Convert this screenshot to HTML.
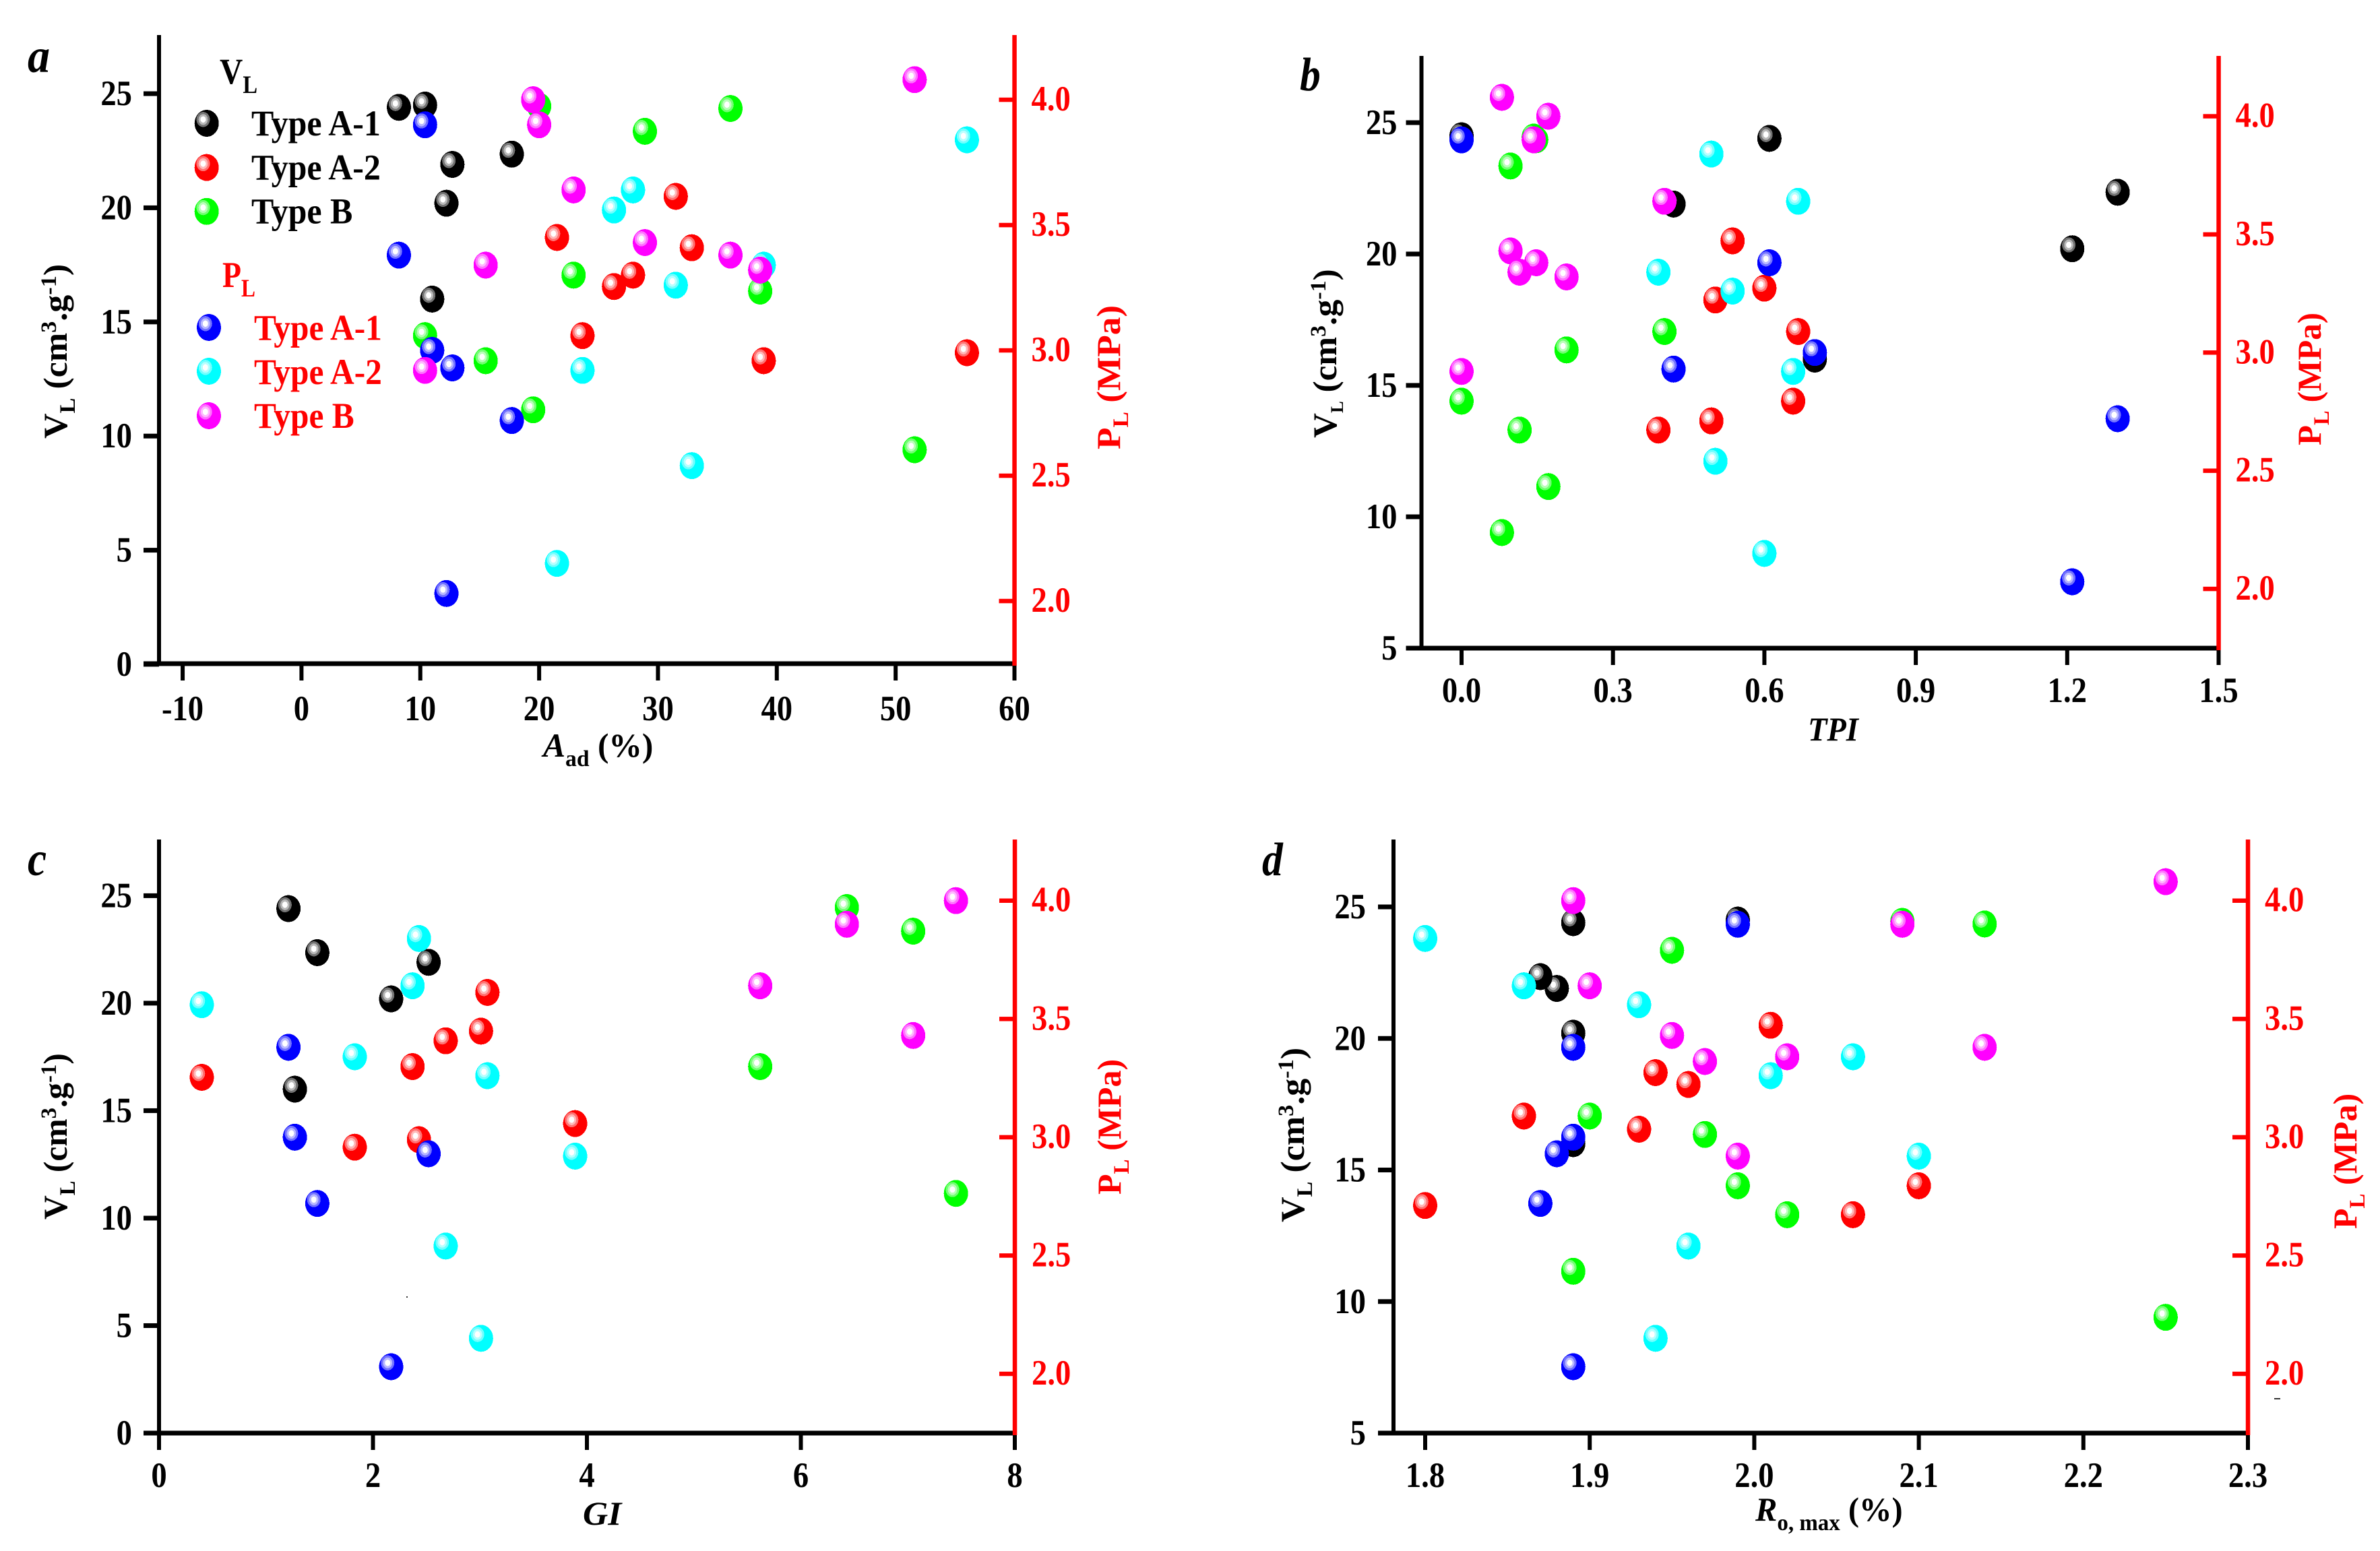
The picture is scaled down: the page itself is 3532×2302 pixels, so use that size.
<!DOCTYPE html>
<html lang="en">
<head>
<meta charset="utf-8">
<title>Langmuir parameters versus coal properties</title>
<style>
html,body{margin:0;padding:0;background:#fff;}
svg{display:block;}
text{font-family:"Liberation Serif",serif;font-weight:bold;}
.red{fill:#f00;}
.blk{fill:#000;}
.it{font-style:italic;}
</style>
</head>
<body>
<svg id="chart" xmlns="http://www.w3.org/2000/svg" width="3532" height="2302" viewBox="0 0 3532 2302">
<rect width="3532" height="2302" fill="#fff"/>

<g id="panel-a"></g>
<g id="panel-b"></g>
<g id="panel-c"></g>
<g id="panel-d"></g>

<g>
<text class="it blk" font-size="72" transform="translate(41,107) scale(.92,1)">a</text>
<text class="it blk" font-size="70" transform="translate(1929,134) scale(.88,1)">b</text>
<text class="it blk" font-size="72" transform="translate(41,1299) scale(.88,1)">c</text>
<text class="it blk" font-size="70" transform="translate(1873,1299) scale(.88,1)">d</text>
</g>

<g class="blk">
<text font-size="50" transform="translate(99,651) rotate(-90) scale(1.04,1)">V<tspan dy="12" font-size="33">L</tspan><tspan dy="-12"> (cm</tspan><tspan dy="-16" font-size="33">3</tspan><tspan dy="16">.g</tspan><tspan dy="-16" font-size="33">-1</tspan><tspan dy="16">)</tspan></text>
<text font-size="50" transform="translate(1983,650) rotate(-90) scale(1.025,1)">V<tspan dy="10" font-size="26">L</tspan><tspan dy="-10"> (cm</tspan><tspan dy="-16" font-size="33">3</tspan><tspan dy="16">.g</tspan><tspan dy="-16" font-size="33">-1</tspan><tspan dy="16">)</tspan></text>
<text font-size="50" transform="translate(99,1810) rotate(-90) scale(.99,1)">V<tspan dy="12" font-size="33">L</tspan><tspan dy="-12"> (cm</tspan><tspan dy="-16" font-size="33">3</tspan><tspan dy="16">.g</tspan><tspan dy="-16" font-size="33">-1</tspan><tspan dy="16">)</tspan></text>
<text font-size="50" transform="translate(1935,1814) rotate(-90) scale(1.04,1)">V<tspan dy="12" font-size="33">L</tspan><tspan dy="-12"> (cm</tspan><tspan dy="-16" font-size="33">3</tspan><tspan dy="16">.g</tspan><tspan dy="-16" font-size="33">-1</tspan><tspan dy="16">)</tspan></text>
</g>

<g class="red">
<text font-size="50" transform="translate(1662,667) rotate(-90) scale(1.065,1)">P<tspan dy="12" font-size="33">L</tspan><tspan dy="-12"> (MPa)</tspan></text>
<text font-size="50" transform="translate(3444,661) rotate(-90) scale(.98,1)">P<tspan dy="12" font-size="33">L</tspan><tspan dy="-12"> (MPa)</tspan></text>
<text font-size="50" transform="translate(1663,1773) rotate(-90) scale(1,1)">P<tspan dy="12" font-size="33">L</tspan><tspan dy="-12"> (MPa)</tspan></text>
<text font-size="50" transform="translate(3497,1824) rotate(-90) scale(1,1)">P<tspan dy="12" font-size="33">L</tspan><tspan dy="-12"> (MPa)</tspan></text>
</g>

<g class="blk">
<text font-size="50" transform="translate(806,1123) scale(.99,1)"><tspan class="it">A</tspan><tspan dy="14" font-size="34">ad</tspan><tspan dy="-14"> (%)</tspan></text>
<text class="it" font-size="50" transform="translate(2683,1099) scale(.93,1)">TPI</text>
<text class="it" font-size="50" transform="translate(865,2263) scale(1.03,1)">GI</text>
<text font-size="50" transform="translate(2605,2257) scale(.97,1)"><tspan class="it">R</tspan><tspan dy="14" font-size="34">o, max</tspan><tspan dy="-14"> (%)</tspan></text>
</g>

<g id="legend">
<text class="blk" font-size="54" transform="translate(326,124) scale(.88,1)">V<tspan dy="14" font-size="37">L</tspan></text>
<text class="blk" font-size="54" transform="translate(373,201) scale(.925,1)">Type A-1</text>
<text class="blk" font-size="54" transform="translate(373,266.5) scale(.925,1)">Type A-2</text>
<text class="blk" font-size="54" transform="translate(373,331.7) scale(.925,1)">Type B</text>
<text class="red" font-size="54" transform="translate(330,426) scale(.85,1)">P<tspan dy="14" font-size="37">L</tspan></text>
<text class="red" font-size="54" transform="translate(377,504.5) scale(.915,1)">Type A-1</text>
<text class="red" font-size="54" transform="translate(377,570) scale(.915,1)">Type A-2</text>
<text class="red" font-size="54" transform="translate(377,635) scale(.915,1)">Type B</text>
</g>

<rect x="603" y="1924" width="2" height="2" fill="#333"/>
<rect x="3375" y="2075" width="9" height="2" fill="#333"/>
</svg>

<script>
// ---- Type A-1 samples ----
var a1Aad = [8.2, 10.4, 12.7, 17.7, 12.2, 11];
var a1Tpi = [0.61, 0, 0.42, 1.3, 1.21, 0.7];
var a1Gi  = [1.21, null, 2.52, 1.48, 2.17, 1.27];
var a1Ro  = [1.89, 1.99, 1.88, 1.87, 1.89, 1.89];
var a1Vl  = [24.4, 24.5, 21.9, 22.35, 20.2, 16];
var a1Pl  = [3.38, 3.9, 2.93, 2.72, 2.03, 3.0];
// ---- Type A-2 samples ----
var a2Aad = [21.5, 31.5, 32.85, 27.9, 26.3, 23.65, 38.9, 56];
var a2Tpi = [0.6, 0.537, 0.503, 0.667, null, 0.657, 0.39, 0.495];
var a2Gi  = [3.01, 3.07, 2.68, 2.37, 0.4, 3.89, 1.83, 2.43];
var a2Ro  = [1.94, 2.01, 1.96, 1.86, 1.93, 2.1, 2.06, 1.8];
var a2Vl  = [18.7, 20.5, 18.25, 17.05, 16.55, 14.4, 13.3, 13.65];
var a2Pl  = [2.15, 3.26, 2.54, 3.64, 3.56, 2.92, 3.34, 3.84];
// ---- Type B samples ----
var bAad = [19.5, 20, 22.9, 28.9, 36.1, 38.6, 10.4, 15.5, 51.6];
var bTpi = [0.172, 0.143, 0.402, 0.097, 0.148, 0.208, 0, 0.115, 0.08];
var bGi  = [7.45, 6.43, 5.62, 7.05, null, null, null, null, null];
var bRo  = [1.89, 2.09, 1.9, 1.95, 2.14, 1.97, 1.99, 2.02, 2.25];
var bVl  = [11.15, 24.45, 17.05, 23.35, 24.35, 16.35, 14.4, 13.3, 9.4];
var bPl  = [4.0, 3.9, 3.64, 3.43, 3.38, 3.32, 2.92, 3.34, 4.08];
// ---- Tick labels ----
var aadTicks = ['-10', '0', '10', '20', '30', '40', '50', '60'];
var tpiTicks = ['0.0', '0.3', '0.6', '0.9', '1.2', '1.5'];
var giTicks  = ['0', '2', '4', '6', '8'];
var roTicks  = ['1.8', '1.9', '2.0', '2.1', '2.2', '2.3'];
var vlTicksFromZero = ['0', '5', '10', '15', '20', '25'];
var vlTicksFromFive = ['5', '10', '15', '20', '25'];
var plTicks = ['2.0', '2.5', '3.0', '3.5', '4.0'];
// ---- Legend sample colours ----
var legendVlColors = ['#000000', '#ff0000', '#00ff00'];
var legendPlColors = ['#0000ff', '#00ffff', '#ff00ff'];

var NS = 'http://www.w3.org/2000/svg';

function linear(d0, r0, d1, r1) {
  return function (v) { return r0 + (v - d0) * (r1 - r0) / (d1 - d0); };
}

function addRect(parent, x, y, w, h, fill, name) {
  var el = document.createElementNS(NS, 'rect');
  el.setAttribute('x', x);
  el.setAttribute('y', y);
  el.setAttribute('width', w);
  el.setAttribute('height', h);
  el.setAttribute('fill', fill);
  
  
  parent.appendChild(el);
  return el;
}

function addLabel(parent, x, y, str, anchor, fill, name) {
  var el = document.createElementNS(NS, 'text');
  el.setAttribute('transform', 'translate(' + x + ',' + y + ') scale(.88,1)');
  el.setAttribute('text-anchor', anchor);
  el.setAttribute('font-size', '53');
  el.setAttribute('fill', fill);
  el.textContent = str;
  
  
  parent.appendChild(el);
  return el;
}

function addEllipse(parent, cx, cy, rx, ry, fill, opacity) {
  var el = document.createElementNS(NS, 'ellipse');
  el.setAttribute('cx', cx);
  el.setAttribute('cy', cy);
  el.setAttribute('rx', rx);
  el.setAttribute('ry', ry);
  el.setAttribute('fill', fill);
  el.setAttribute('fill-opacity', opacity);
  el.setAttribute('shape-rendering', 'crispEdges');
  parent.appendChild(el);
  return el;
}

function addMarker(parent, cx, cy, color, name) {
  var g = document.createElementNS(NS, 'g');
  
  
  addEllipse(g, cx, cy, 18, 20, color, 1);
  addEllipse(g, cx - 5.2, cy - 5.7, 10, 11.2, '#ffffff', 0.45);
  addEllipse(g, cx - 5.2, cy - 5.7, 6.8, 8, '#ffffff', 0.5);
  addEllipse(g, cx - 5.2, cy - 5.7, 4, 4.7, '#ffffff', 1);
  parent.appendChild(g);
  return g;
}

function drawSeries(parent, xs, ys, xScale, yScale, color, name) {
  for (var i = 0; i < xs.length; i++) {
    if (xs[i] === null || ys[i] === null) { continue; }
    addMarker(parent, xScale(xs[i]), yScale(ys[i]), color, name);
  }
}

function drawPanel(cfg) {
  var p = document.getElementById(cfg.id);
  var xScale = cfg.xScale, vlScale = cfg.vlScale, plScale = cfg.plScale;
  var axisX = xScale(parseFloat(cfg.xTicks[cfg.xTicks.length - 1]));
  // Left axis
  addRect(p, cfg.leftX - 3, cfg.top, 6, cfg.bottom - cfg.top, '#000', 'left-axis-line');
  cfg.vlTicks.forEach(function (t) {
    var y = vlScale(parseFloat(t));
    addRect(p, cfg.leftX - 23, y - 3.5, 23, 7, '#000', 'left-axis-tick');
    addLabel(p, cfg.leftX - cfg.leftGap, y + 17, t, 'end', '#000', 'left-axis-tick-label');
  });
  // Bottom axis
  addRect(p, cfg.leftX - 23, cfg.bottom - 3.5, axisX - cfg.leftX + 23, 7, '#000', 'bottom-axis-line');
  cfg.xTicks.forEach(function (t) {
    var x = xScale(parseFloat(t));
    addRect(p, x - 3, cfg.bottom, 6, 25, '#000', 'bottom-axis-tick');
    addLabel(p, x, cfg.xBase, t, 'middle', '#000', 'bottom-axis-tick-label');
  });
  // Right axis
  addRect(p, axisX - 3.2, cfg.top, 6.5, cfg.bottom + 3 - cfg.top, '#f00', 'right-axis-line');
  plTicks.forEach(function (t) {
    var y = plScale(parseFloat(t));
    addRect(p, axisX - 23, y - 3.2, 23, 6.5, '#f00', 'right-axis-tick');
    addLabel(p, axisX + 25, y + 16, t, 'start', '#f00', 'right-axis-tick-label');
  });
  // Series
  drawSeries(p, cfg.a1x, a1Vl, xScale, vlScale, '#000000', 'vl-type-a1-point');
  drawSeries(p, cfg.a2x, a2Vl, xScale, vlScale, '#ff0000', 'vl-type-a2-point');
  drawSeries(p, cfg.bx, bVl, xScale, vlScale, '#00ff00', 'vl-type-b-point');
  drawSeries(p, cfg.a1x, a1Pl, xScale, plScale, '#0000ff', 'pl-type-a1-point');
  drawSeries(p, cfg.a2x, a2Pl, xScale, plScale, '#00ffff', 'pl-type-a2-point');
  drawSeries(p, cfg.bx, bPl, xScale, plScale, '#ff00ff', 'pl-type-b-point');
}

drawPanel({
  id: 'panel-a', leftX: 236, top: 52, bottom: 985, leftGap: 40, xBase: 1069,
  xScale: linear(0, 447.4, 60, 1505.5),
  vlScale: linear(0, 986, 25, 139),
  plScale: linear(2, 892, 4, 148),
  xTicks: aadTicks, vlTicks: vlTicksFromZero,
  a1x: a1Aad, a2x: a2Aad, bx: bAad
});
drawPanel({
  id: 'panel-b', leftX: 2109.5, top: 83, bottom: 962, leftGap: 36, xBase: 1042,
  xScale: linear(0, 2169, 1.5, 3292.5),
  vlScale: linear(5, 962, 25, 182),
  plScale: linear(2, 874, 4, 172.5),
  xTicks: tpiTicks, vlTicks: vlTicksFromFive,
  a1x: a1Tpi, a2x: a2Tpi, bx: bTpi
});
drawPanel({
  id: 'panel-c', leftX: 236, top: 1246, bottom: 2127, leftGap: 40, xBase: 2207,
  xScale: linear(0, 236, 8, 1506),
  vlScale: linear(0, 2127, 25, 1329.4),
  plScale: linear(2, 2039, 4, 1336.7),
  xTicks: giTicks, vlTicks: vlTicksFromZero,
  a1x: a1Gi, a2x: a2Gi, bx: bGi
});
drawPanel({
  id: 'panel-d', leftX: 2068, top: 1246, bottom: 2127, leftGap: 41, xBase: 2207,
  xScale: linear(1.8, 2115, 2.3, 3336),
  vlScale: linear(5, 2127, 25, 1346),
  plScale: linear(2, 2039, 4, 1336.7),
  xTicks: roTicks, vlTicks: vlTicksFromFive,
  a1x: a1Ro, a2x: a2Ro, bx: bRo
});

// Legend markers
var legendGroup = document.getElementById('legend');
addMarker(legendGroup, 306.7, 183, legendVlColors[0], 'legend-marker-vl-type-a1');
addMarker(legendGroup, 306.7, 248.6, legendVlColors[1], 'legend-marker-vl-type-a2');
addMarker(legendGroup, 306.7, 313.8, legendVlColors[2], 'legend-marker-vl-type-b');
addMarker(legendGroup, 310, 486, legendPlColors[0], 'legend-marker-pl-type-a1');
addMarker(legendGroup, 310, 551, legendPlColors[1], 'legend-marker-pl-type-a2');
addMarker(legendGroup, 310, 617, legendPlColors[2], 'legend-marker-pl-type-b');
</script>
</body>
</html>
